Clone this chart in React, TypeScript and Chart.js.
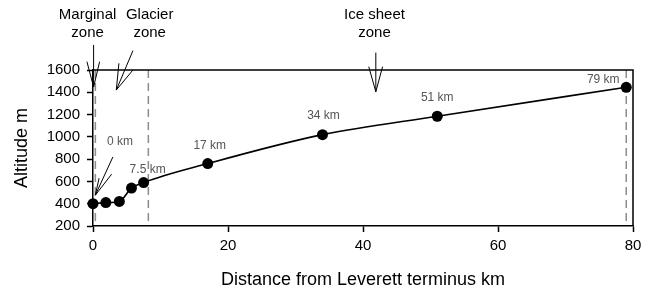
import { useEffect, useRef } from 'react';
import { Chart, registerables } from 'chart.js';

Chart.register(...registerables);

// ---- data ----
const distanceKm = [0, 1.9, 3.9, 5.7, 7.5, 17, 34, 51, 79];
const altitudeM = [400, 410, 420, 540, 590, 760, 1020, 1185, 1445];
const pointLabels = ['0 km', '', '', '', '7.5 km', '17 km', '34 km', '51 km', '79 km'];
const xTickValues = [0, 20, 40, 60, 80];
const yTickValues = [200, 400, 600, 800, 1000, 1200, 1400, 1600];
const zoneBoundariesKm = [0.35, 8.2, 79];
const zoneNames = [['Marginal', 'zone'], ['Glacier', 'zone'], ['Ice sheet', 'zone']];
const zoneNameKm = [-0.8, 8.4, 41.7];

// ---- annotation geometry (style/position, not data) ----
// label offsets in px relative to the point
const labelOffsets: [number, number][] = [
  [27, -62], [0, 0], [0, 0], [0, 0], [4, -13], [2, -18], [1, -19], [0, -19], [-23, -8],
];
// arrows in (km, m): tail, tip, head1, head2
const arrows: [number, number][][] = [
  [[0.09, 1825], [0.09, 1447], [-0.9, 1675], [0.98, 1675]],
  [[5.92, 1774], [3.45, 1420], [3.84, 1660], [5.92, 1600]],
  [[41.9, 1756], [41.9, 1405], [40.85, 1630], [42.9, 1630]],
  [[2.95, 820], [0.34, 476], [0.9, 629], [2.76, 665]],
];

const FONT = '"Liberation Sans", Arial, Helvetica, sans-serif';

const decorPlugin = {
  id: 'decor',
  beforeDatasetsDraw(chart: any) {
    const { ctx, chartArea: a, scales } = chart;
    const xs = scales.x;
    ctx.save();
    // dashed zone boundaries
    ctx.strokeStyle = '#8c8c8c';
    ctx.lineWidth = 1.5;
    ctx.setLineDash([8, 5]);
    zoneBoundariesKm.forEach((k) => {
      const px = xs.getPixelForValue(k);
      ctx.beginPath();
      ctx.moveTo(px, a.top);
      ctx.lineTo(px, a.bottom);
      ctx.stroke();
    });
    ctx.setLineDash([]);
    // frame top / right
    ctx.strokeStyle = '#000';
    ctx.lineWidth = 1.5;
    ctx.beginPath();
    ctx.moveTo(a.left, a.top);
    ctx.lineTo(a.right, a.top);
    ctx.lineTo(a.right, a.bottom);
    ctx.stroke();
    ctx.restore();
  },
  afterDraw(chart: any) {
    const { ctx, chartArea: a, scales } = chart;
    const xs = scales.x;
    const ys = scales.y;
    ctx.save();
    // point labels
    ctx.font = `12px ${FONT}`;
    ctx.fillStyle = '#555';
    ctx.textAlign = 'center';
    ctx.textBaseline = 'middle';
    pointLabels.forEach((t, i) => {
      if (!t) return;
      const px = xs.getPixelForValue(distanceKm[i]);
      const py = ys.getPixelForValue(altitudeM[i]);
      ctx.fillText(t, px + labelOffsets[i][0], py + labelOffsets[i][1]);
    });
    // arrows
    ctx.strokeStyle = '#000';
    ctx.lineWidth = 1;
    arrows.forEach((ar) => {
      const p = ar.map(([k, m]) => [xs.getPixelForValue(k), ys.getPixelForValue(m)]);
      ctx.beginPath();
      ctx.moveTo(p[0][0], p[0][1]);
      ctx.lineTo(p[1][0], p[1][1]);
      ctx.moveTo(p[2][0], p[2][1]);
      ctx.lineTo(p[1][0], p[1][1]);
      ctx.lineTo(p[3][0], p[3][1]);
      ctx.stroke();
    });
    // zone names
    ctx.font = `15px ${FONT}`;
    ctx.fillStyle = '#000';
    zoneNames.forEach((lines, i) => {
      const px = xs.getPixelForValue(zoneNameKm[i]);
      lines.forEach((ln, j) => {
        ctx.fillText(ln, px, a.top - 55 + j * 18);
      });
    });
    ctx.restore();
  },
};

export default function App() {
  const ref = useRef<HTMLCanvasElement | null>(null);
  useEffect(() => {
    document.body.style.margin = '0';
    const canvas = ref.current;
    if (!canvas) return;
    const chart = new Chart(canvas, {
      type: 'line',
      data: {
        datasets: [
          {
            data: distanceKm.map((d, i) => ({ x: d, y: altitudeM[i] })),
            borderColor: '#000',
            borderWidth: 1.6,
            pointRadius: 5.5,
            pointBackgroundColor: '#000',
            pointBorderColor: '#000',
            pointBorderWidth: 0,
            cubicInterpolationMode: 'monotone',
            clip: false as any,
          },
        ],
      },
      options: {
        animation: false,
        responsive: false,
        devicePixelRatio: 1,
        layout: { padding: { top: 70, right: 18, left: 0, bottom: 0 } },
        plugins: { legend: { display: false }, tooltip: { enabled: false } },
        scales: {
          x: {
            type: 'linear',
            min: 0,
            max: 80,
            afterBuildTicks: (s: any) => {
              s.ticks = xTickValues.map((v) => ({ value: v }));
            },
            afterFit: (s: any) => {
              s.height = 66;
            },
            grid: { display: true, drawOnChartArea: false, tickLength: 6, tickColor: '#000', tickWidth: 1.5 },
            border: { display: true, color: '#000', width: 1.5 },
            ticks: {
              color: '#000',
              font: { family: FONT, size: 15 },
              padding: 5,
              maxRotation: 0,
              callback: (v: any) => String(v),
            },
            title: {
              display: true,
              text: 'Distance from Leverett terminus km',
              color: '#000',
              font: { family: FONT, size: 18 },
              padding: { top: 0, bottom: 1 },
            },
          },
          y: {
            type: 'linear',
            min: 200,
            max: 1600,
            afterBuildTicks: (s: any) => {
              s.ticks = yTickValues.map((v) => ({ value: v }));
            },
            afterFit: (s: any) => {
              s.width = 93;
            },
            grid: { display: true, drawOnChartArea: false, tickLength: 6, tickColor: '#000', tickWidth: 1.5 },
            border: { display: true, color: '#000', width: 1.5 },
            ticks: {
              color: '#000',
              font: { family: FONT, size: 15 },
              padding: 7,
              callback: (v: any) => String(v),
            },
            title: {
              display: true,
              text: 'Altitude m',
              color: '#000',
              font: { family: FONT, size: 18 },
              padding: { top: 11, bottom: 0 },
            },
          },
        },
      },
      plugins: [decorPlugin],
    } as any);
    return () => chart.destroy();
  }, []);
  return (
    <div style={{ position: 'absolute', left: 0, top: 0, width: 651, height: 292 }}>
      <canvas ref={ref} width={651} height={292} style={{ width: 651, height: 292 }} />
    </div>
  );
}
